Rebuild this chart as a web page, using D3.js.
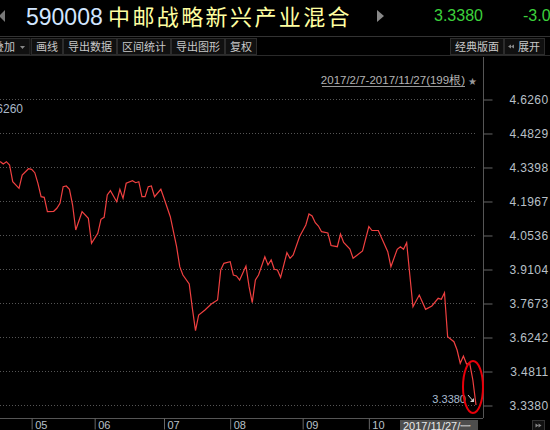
<!DOCTYPE html>
<html>
<head>
<meta charset="utf-8">
<script src="https://cdn.jsdelivr.net/npm/d3@7"></script>
<style>
  body { margin: 0; background: #000; }
  svg { display: block; }
</style>
</head>
<body>
<script>

// header texts
var fundCode = "590008",
    fundName = "中邮战略新兴产业混合",
    lastNav = "3.3380",
    lastChange = "-3.0",
    rangeLabel = "2017/2/7-2017/11/27(199根)",
    cursorLabel = "2017/11/27/一",
    endLabel = "3.3380";

var toolLeft = ["画线", "导出数据", "区间统计", "导出图形", "复权"];
var toolRight = ["经典版面", "展开"];

// y axis ticks (net value)
var yTickLabels = ["3.3380", "3.4811", "3.6242", "3.7673", "3.9104",
                   "4.0536", "4.1967", "4.3398", "4.4829", "4.6260"];

// first trading day of each month (index in 199 trading days from 2017/2/7)
var monthLabels = ["05", "06", "07", "08", "09", "10"];
var monthDays = [57, 77, 99, 120, 143, 164];

// [trading day index, net value] (visible part)
var navPoints = [
  [47, 4.3629], [48, 4.3524], [49, 4.3621], [50, 4.3482], [51, 4.2779],
  [53, 4.2501], [54, 4.3061], [56, 4.3326], [57, 4.3301], [58, 4.3158],
  [59, 4.2712], [60, 4.2148], [61, 4.2122], [62, 4.1516], [64, 4.1533],
  [65, 4.1659], [66, 4.1870], [67, 4.2569], [68, 4.2598], [69, 4.2459],
  [70, 4.1798], [71, 4.0746], [73, 4.1516], [75, 4.1238], [76, 4.0186],
  [78, 4.0607], [79, 4.1196], [80, 4.1280], [81, 4.2219], [82, 4.2400],
  [84, 4.1937], [85, 4.2459], [86, 4.2080], [87, 4.2712], [89, 4.2821],
  [90, 4.2737], [91, 4.2779], [92, 4.2148], [93, 4.2148], [94, 4.2569],
  [95, 4.2598], [96, 4.2148], [98, 4.2459], [99, 4.2080], [101, 4.1306],
  [103, 4.0043], [104, 3.9201], [105, 3.8852], [107, 3.8473], [108, 3.7450],
  [109, 3.6507], [110, 3.7168], [112, 3.7379], [114, 3.7631], [116, 3.7800],
  [117, 3.9062], [118, 3.9344], [120, 3.9412], [121, 3.8852], [122, 3.8810],
  [123, 3.8641], [125, 3.9231], [126, 3.8359], [127, 3.7686], [128, 3.8641],
  [129, 3.8852], [131, 3.9622], [132, 3.9273], [133, 3.9483], [134, 3.9092],
  [135, 3.9062], [136, 3.8755], [138, 3.9790], [139, 3.9555], [140, 3.9694],
  [142, 4.0464], [144, 4.0956], [145, 4.1419], [146, 4.1335], [147, 4.1053],
  [148, 4.0914], [149, 4.0674], [151, 4.0620], [152, 4.0094], [154, 4.0043],
  [155, 4.0578], [156, 4.0220], [158, 3.9946], [159, 3.9555], [162, 3.9862],
  [164, 4.0893], [165, 4.0725], [167, 4.0725], [170, 3.9833], [171, 3.9201],
  [173, 3.9934], [174, 4.0043], [175, 3.9934], [176, 4.0211], [177, 3.8852],
  [178, 3.7517], [180, 3.8010], [182, 3.7408], [184, 3.7547], [186, 3.7871],
  [187, 3.7829], [188, 3.8107], [189, 3.6255], [191, 3.6044], [192, 3.5695],
  [193, 3.5135], [194, 3.5442], [195, 3.5106], [196, 3.5135], [197, 3.4432],
  [198, 3.3380]
];

var width = 550, height = 430;
var plotRight = 483, plotTop = 57, plotBottom = 418;
var cjk = "'Noto Sans CJK SC', 'Noto Sans', sans-serif";
var latin = "'Liberation Sans', Arial, sans-serif";

var svg = d3.select("body").append("svg")
    .attr("width", width)
    .attr("height", height);

svg.append("rect")
    .attr("width", width)
    .attr("height", height)
    .attr("fill", "#000");

// scales
var x = d3.scaleLinear().domain([0, 198]).range([-148, 476]);
var y = d3.scaleLinear().domain([3.338, 4.626]).range([405, 99]);

// ---- header ----
svg.append("path").attr("d", "M5,10L-1,16L5,22Z").attr("fill", "#777");

svg.append("text")
    .attr("x", 26).attr("y", 25)
    .attr("font-family", latin).attr("font-size", 23)
    .attr("fill", "#d2e6ff")
    .text(fundCode);

svg.append("text")
    .attr("x", 108).attr("y", 25)
    .attr("font-family", cjk).attr("font-size", 22)
    .attr("letter-spacing", 2.4)
    .attr("fill", "#ffffa0")
    .text(fundName);

svg.append("path").attr("d", "M377,10L384,16L377,22Z").attr("fill", "#888");

svg.append("text")
    .attr("x", 434).attr("y", 21)
    .attr("font-family", latin).attr("font-size", 16)
    .attr("fill", "#3cd23c")
    .text(lastNav);

svg.append("text")
    .attr("x", 523).attr("y", 21)
    .attr("font-family", latin).attr("font-size", 16)
    .attr("fill", "#3cd23c")
    .text(lastChange);

// ---- toolbar ----
svg.append("line")
    .attr("x1", 0).attr("x2", width).attr("y1", 36.5).attr("y2", 36.5)
    .attr("stroke", "#333");
svg.append("line")
    .attr("x1", 0).attr("x2", width).attr("y1", 55.5).attr("y2", 55.5)
    .attr("stroke", "#2a2a2a");

var bar = svg.append("g").attr("font-family", cjk).attr("font-size", 11)
    .attr("fill", "#c8c8c8");

function button(x0, w, label) {
  bar.append("rect")
      .attr("x", x0 + 0.5).attr("y", 38.5)
      .attr("width", w).attr("height", 16)
      .attr("fill", "#101010").attr("stroke", "#2c2c2c");
  bar.append("text")
      .attr("x", x0 + 0.5 + w / 2).attr("y", 50.5)
      .attr("text-anchor", "middle")
      .text(label);
}

// first button, cut at the left edge
bar.append("rect")
    .attr("x", -10).attr("y", 38.5).attr("width", 40).attr("height", 16)
    .attr("fill", "#101010").attr("stroke", "#2c2c2c");
bar.append("text").attr("x", -7).attr("y", 50.5).text("叠加");
bar.append("path").attr("d", "M20,46L25,46L22.5,49Z").attr("fill", "#888");

var bx = 31;
toolLeft.forEach(function(t) {
  var w = t.length * 11 + 9;
  button(bx, w, t);
  bx += w + 1;
});

button(450, 53, toolRight[0]);
bar.append("rect")
    .attr("x", 504.5).attr("y", 38.5).attr("width", 40).attr("height", 16)
    .attr("fill", "#101010").attr("stroke", "#2c2c2c");
// small double arrow
bar.append("path")
    .attr("d", "M511,44.5l-3,2l3,2zM514,44.5l-3,2l3,2z")
    .attr("fill", "#888");
bar.append("text").attr("x", 518).attr("y", 50.5).text(toolRight[1]);

// ---- plot frame ----
svg.append("line")
    .attr("x1", plotRight + 0.5).attr("x2", plotRight + 0.5)
    .attr("y1", plotTop).attr("y2", plotBottom)
    .attr("stroke", "#555");
svg.append("line")
    .attr("x1", 0).attr("x2", plotRight).attr("y1", plotBottom + 0.5).attr("y2", plotBottom + 0.5)
    .attr("stroke", "#555");

// grid
var yTicks = yTickLabels.map(function(d) { return +d; });

svg.append("g")
    .selectAll("line")
    .data(yTicks)
    .enter().append("line")
    .attr("x1", 0).attr("x2", plotRight - 8)
    .attr("y1", function(d) { return Math.round(y(d)) + 0.5; })
    .attr("y2", function(d) { return Math.round(y(d)) + 0.5; })
    .attr("stroke", "#555")
    .attr("stroke-dasharray", "1,2");

// right axis
var yAxis = svg.append("g")
    .attr("transform", "translate(" + (plotRight + 0.5) + ",0.5)")
    .call(d3.axisRight(y).tickValues(yTicks).tickSize(9)
        .tickFormat(function(d, i) { return yTickLabels[i]; }));

yAxis.select(".domain").remove();
yAxis.selectAll(".tick line").attr("stroke", "#666");
yAxis.selectAll(".tick text")
    .attr("x", 65).attr("dy", "0.36em")
    .attr("text-anchor", "end")
    .attr("font-family", latin).attr("font-size", 12)
    .attr("letter-spacing", 0.4)
    .attr("fill", "#b9c0c8");

// left label (cut off at the edge, as in the screen)
svg.append("text")
    .attr("x", 23).attr("y", y(yTicks[9]) + 14)
    .attr("text-anchor", "end")
    .attr("font-family", latin).attr("font-size", 12)
    .attr("fill", "#a9b8c8")
    .text(yTickLabels[9]);

// bottom axis
var xAxis = svg.append("g")
    .attr("transform", "translate(0," + (plotBottom + 0.5) + ")")
    .call(d3.axisBottom(x).tickValues(monthDays).tickSize(11)
        .tickFormat(function(d, i) { return monthLabels[i]; }));

xAxis.select(".domain").remove();
xAxis.selectAll(".tick line").attr("stroke", "#666");
xAxis.selectAll(".tick text")
    .attr("x", 3).attr("y", 0).attr("dy", "10.5")
    .attr("text-anchor", "start")
    .attr("font-family", latin).attr("font-size", 11)
    .attr("fill", "#b9c0c8");

// cursor date box
svg.append("rect")
    .attr("x", 400).attr("y", 420).attr("width", 78).attr("height", 10)
    .attr("fill", "#4d4d4d");
svg.append("text")
    .attr("x", 403).attr("y", 429.5)
    .attr("font-family", latin).attr("font-size", 11)
    .attr("fill", "#e8e8e8")
    .text(cursorLabel);

svg.append("rect")
    .attr("x", 532.5).attr("y", 420.5).attr("width", 12).attr("height", 10)
    .attr("fill", "#111").attr("stroke", "#333");
svg.append("path")
    .attr("d", "M535.5,423.5l3,2l-3,2zM538.5,423.5l3,2l-3,2z")
    .attr("fill", "#888");

// range label
svg.append("text")
    .attr("x", 465).attr("y", 84)
    .attr("text-anchor", "end")
    .attr("font-family", latin).attr("font-size", 11.5)
    .attr("fill", "#b4b4b4")
    .text(rangeLabel);
svg.append("line")
    .attr("x1", 322).attr("x2", 465).attr("y1", 86.5).attr("y2", 86.5)
    .attr("stroke", "#999");
svg.append("text")
    .attr("x", 468).attr("y", 85)
    .attr("font-size", 10).attr("fill", "#999")
    .text("★");

// ---- the line ----
svg.append("clipPath").attr("id", "plotclip")
  .append("rect")
    .attr("x", 0).attr("y", plotTop)
    .attr("width", plotRight).attr("height", plotBottom - plotTop);

var line = d3.line()
    .x(function(d) { return x(d[0]); })
    .y(function(d) { return y(d[1]); });

svg.append("path")
    .datum(navPoints)
    .attr("clip-path", "url(#plotclip)")
    .attr("fill", "none")
    .attr("stroke", "#f04040")
    .attr("stroke-width", 1.2)
    .attr("d", line);

// last value label and arrow
var last = navPoints[navPoints.length - 1];
svg.append("text")
    .attr("x", x(last[0]) - 10).attr("y", y(last[1]) - 2)
    .attr("text-anchor", "end")
    .attr("font-family", latin).attr("font-size", 11)
    .attr("fill", "#a9bcd0")
    .text(endLabel);
svg.append("path")
    .attr("d", "M" + (x(last[0]) - 8) + "," + (y(last[1]) - 10) +
               "L" + (x(last[0]) - 2) + "," + (y(last[1]) - 3))
    .attr("stroke", "#ccc").attr("fill", "none");
svg.append("path")
    .attr("d", "M" + (x(last[0]) - 2) + "," + (y(last[1]) - 3) + "l-4,0l4,-4z")
    .attr("fill", "#ccc");

// red annotation ellipse
svg.append("ellipse")
    .attr("cx", x(last[0]) - 3).attr("cy", y(last[1]) - 18)
    .attr("rx", 10).attr("ry", 26)
    .attr("fill", "none")
    .attr("stroke", "#e8000a")
    .attr("stroke-width", 2);

</script>
</body>
</html>
